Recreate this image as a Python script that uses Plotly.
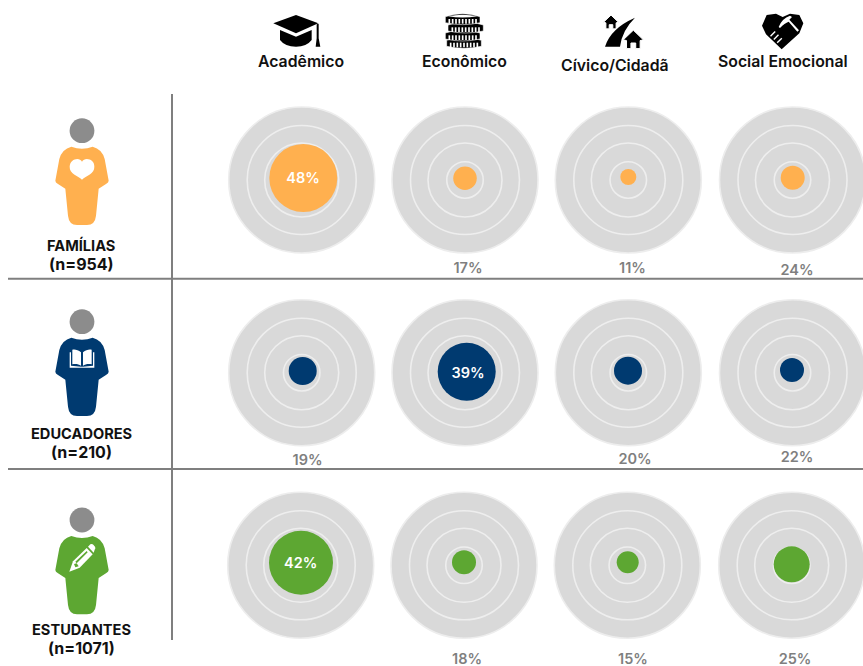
import math
import plotly.graph_objects as go

# ---------- data ----------
areas = ["Acadêmico", "Econômico", "Cívico/Cidadã", "Social Emocional"]
groups = ["FAMÍLIAS", "EDUCADORES", "ESTUDANTES"]
group_n = [954, 210, 1071]
familias = [48, 17, 11, 24]
educadores = [19, 39, 20, 22]
estudantes = [42, 18, 15, 25]
# diameters of the coloured dots (px)
familias_dot = [68, 23.5, 16, 24]
educadores_dot = [28, 58, 28, 24]
estudantes_dot = [64, 24, 22, 36]

# ---------- layout ----------
W, H = 863, 666
FONT = "Inter"
series = [familias, educadores, estudantes]
dots = [familias_dot, educadores_dot, estudantes_dot]
colors = ["#FFB04F", "#003A70", "#5DA732"]
target_x = [[301.7, 465, 628.3, 792.5], [301.7, 465, 628.3, 792.5], [300.7, 464, 627.3, 791.7]]
target_y = [180, 372.7, 565.3]
dot_xy = [
    [(303.3, 178), (465, 178.3), (628.3, 177), (792.7, 177.7)],
    [(302.7, 371), (466.7, 371.7), (628, 370.7), (792, 370)],
    [(301, 562.7), (464, 562.3), (627.7, 562.3), (791.7, 564.3)],
]
label_xy = [
    [(303, 179.5), (468, 269.5), (632.5, 269.5), (797, 271)],
    [(307.5, 461), (468, 374.5), (635, 460.5), (797, 458.5)],
    [(300.7, 564.5), (467, 660.5), (633, 660.5), (795, 660.5)],
]
ring_d = [146, 109, 74, 36.5]
head_y = [130.7, 321.7, 520]
head_x = 82
group_label_y = [(245.5, 263.5), (434, 452), (630, 648)]
header_xy = [(300.5, 61.5), (464, 61), (615, 65), (782.5, 61)]

fig = go.Figure()

# target rings
for row in range(3):
    xs = target_x[row]
    ys = [target_y[row]] * 4
    fig.add_trace(go.Scatter(x=xs, y=ys, mode="markers", showlegend=False, hoverinfo="skip",
                             marker=dict(size=ring_d[0], color="#D9D9D9", opacity=1,
                                         line=dict(color="#EDEDED", width=1.6))))
    for d in ring_d[1:]:
        fig.add_trace(go.Scatter(x=xs, y=ys, mode="markers", showlegend=False, hoverinfo="skip",
                                 marker=dict(size=d, color="rgba(0,0,0,0)", opacity=1,
                                             line=dict(color="#EEEEEE", width=1.6))))

# coloured dots and value labels
for row, vals in enumerate(series):
    fig.add_trace(go.Scatter(x=[p[0] for p in dot_xy[row]], y=[p[1] for p in dot_xy[row]],
                             mode="markers", name=groups[row], showlegend=False, hoverinfo="skip",
                             marker=dict(size=dots[row], color=colors[row], opacity=1, line=dict(width=0))))
    big = [v == max(vals) for v in vals]
    fig.add_trace(go.Scatter(x=[p[0] for p in label_xy[row]], y=[p[1] for p in label_xy[row]],
                             mode="text", showlegend=False, hoverinfo="skip",
                             text=[f"{v}%" for v in vals], textposition="middle center",
                             textfont=dict(family=FONT, size=14.5, weight=600,
                                           color=["#FFFFFF" if b else "#7F7F7F" for b in big])))

# person figures
shapes = []
def path(d, fill, line=None, lw=0):
    shapes.append(dict(type="path", path=d, xref="x", yref="y", fillcolor=fill,
                       line=dict(color=line or "rgba(0,0,0,0)", width=lw)))

def circle(cx, cy, r, fill):
    shapes.append(dict(type="circle", x0=cx - r, x1=cx + r, y0=cy - r, y1=cy + r, xref="x", yref="y",
                       fillcolor=fill, line=dict(width=0)))

def tr(ox, oy, s=1 / 3):
    return lambda x, y: f"{ox + x * s:.2f},{oy + y * s:.2f}"

for row, hy in enumerate(head_y):
    circle(head_x, hy, 12.4, "#8C8C8C")
    p = tr(head_x, hy)
    d = ("M" + p(-32, 48) + " Q" + p(0, 60) + " " + p(32, 48) + " Q" + p(60, 55) + " " + p(68, 85)
         + " L" + p(80, 150) + " Q" + p(80, 156) + " " + p(72, 160) + " L" + p(50, 174)
         + " L" + p(42, 255) + " Q" + p(39, 283) + " " + p(15, 283) + " L" + p(-15, 283)
         + " Q" + p(-39, 283) + " " + p(-42, 255) + " L" + p(-50, 174) + " L" + p(-72, 160)
         + " Q" + p(-80, 156) + " " + p(-80, 150) + " L" + p(-68, 85) + " Q" + p(-60, 55) + " " + p(-32, 48) + " Z")
    path(d, colors[row])

# heart on FAMÍLIAS
p = tr(head_x, head_y[0])
path("M" + p(0, 147) + " C" + p(-12, 135) + " " + p(-38, 130) + " " + p(-37, 108) + " C" + p(-36, 85) + " " + p(-8, 78) + " " + p(0, 93)
     + " C" + p(8, 78) + " " + p(38, 85) + " " + p(37, 108) + " C" + p(38, 130) + " " + p(12, 135) + " " + p(0, 147) + " Z", "#FFFFFF")

# open book on EDUCADORES
p = tr(head_x, head_y[1])
path("M" + p(-3, 92) + " C" + p(-12, 84) + " " + p(-22, 82) + " " + p(-29, 84) + " L" + p(-29, 128) + " C" + p(-20, 126) + " " + p(-10, 127) + " " + p(-3, 132) + " Z", "#FFFFFF")
path("M" + p(3, 92) + " C" + p(12, 84) + " " + p(22, 82) + " " + p(29, 84) + " L" + p(29, 128) + " C" + p(20, 126) + " " + p(10, 127) + " " + p(3, 132) + " Z", "#FFFFFF")
path("M" + p(-37, 92) + " L" + p(-33, 92) + " L" + p(-33, 132) + " L" + p(-3, 135) + " L" + p(3, 135) + " L" + p(33, 132) + " L" + p(33, 92) + " L" + p(37, 92)
     + " L" + p(37, 138) + " L" + p(-37, 138) + " Z", "#FFFFFF")

# pencil on ESTUDANTES
p = tr(head_x, head_y[2])
path("M" + p(-38, 155) + " L" + p(-27, 124) + " L" + p(14, 84) + " L" + p(32, 103) + " L" + p(-7, 143) + " Z", "#FFFFFF")
path("M" + p(18, 80) + " L" + p(25, 73) + " Q" + p(30, 70) + " " + p(34, 74) + " L" + p(39, 80) + " Q" + p(42, 85) + " " + p(38, 89) + " L" + p(35, 98) + " Z", "#FFFFFF")
path("M" + p(-20, 125) + " L" + p(14, 93) + " L" + p(17, 97) + " L" + p(-16, 130) + " Z", colors[2])
path("M" + p(-24, 132) + " L" + p(-16, 130) + " L" + p(-10, 139) + " L" + p(-20, 142) + " Z", colors[2])

# graduation cap
p = tr(260, 5)
path("M" + p(60, 75) + " L" + p(108, 95) + " L" + p(155, 75) + " L" + p(155, 105) + " Q" + p(140, 125) + " " + p(108, 125) + " Q" + p(75, 125) + " " + p(60, 105) + " Z", "#000000")
path("M" + p(40, 55) + " L" + p(108, 30) + " L" + p(175, 55) + " L" + p(108, 85) + " Z", "#000000")
path("M" + p(170, 58) + " L" + p(176, 56) + " L" + p(176, 100) + " L" + p(181, 125) + " L" + p(167, 125) + " L" + p(170, 100) + " Z", "#000000")

# coins
for cx, top, hw in [(612, 98, 52), (608, 76, 52), (617, 52, 53), (608, 27, 52)]:
    h = 32
    path("M" + p(cx - hw, top + 8) + " Q" + p(cx, top - 10) + " " + p(cx + hw, top + 8) + " L" + p(cx + hw, top + h - 6)
         + " Q" + p(cx, top + h + 6) + " " + p(cx - hw, top + h - 6) + " Z", "#000000", "#FFFFFF", 0.6)
    for i in range(-4, 5):
        bx = cx + i * 10
        path("M" + p(bx - 2.5, top + 15) + " L" + p(bx + 2.5, top + 15) + " L" + p(bx + 2.5, top + h - 3) + " L" + p(bx - 2.5, top + h - 3) + " Z", "#FFFFFF")
    if top == 27:
        path("M" + p(cx - hw + 8, top + 7) + " Q" + p(cx, top - 3) + " " + p(cx + hw - 8, top + 7) + " Q" + p(cx, top + 14) + " " + p(cx - hw + 8, top + 7) + " Z", "#FFFFFF")

# houses and road
p = tr(590, 5)
path("M" + p(135, 38) + " Q" + p(62, 70) + " " + p(45, 125) + " L" + p(90, 125) + " Q" + p(96, 76) + " " + p(135, 38) + " Z", "#000000")
def house(cx, cy, s):
    path("M" + p(cx - 25 * s, cy + 2 * s) + " L" + p(cx, cy - 22 * s) + " L" + p(cx + 25 * s, cy + 2 * s) + " L" + p(cx + 17 * s, cy + 4 * s)
         + " L" + p(cx + 17 * s, cy + 24 * s) + " L" + p(cx + 6 * s, cy + 24 * s) + " L" + p(cx + 6 * s, cy + 10 * s)
         + " L" + p(cx - 6 * s, cy + 10 * s) + " L" + p(cx - 6 * s, cy + 24 * s) + " L" + p(cx - 17 * s, cy + 24 * s) + " L" + p(cx - 17 * s, cy + 4 * s) + " Z",
         "#000000", "#FFFFFF", 1)
house(63, 50, 0.9)
house(130, 102, 1.2)

# handshake heart
path("M" + p(575, 133) + " L" + p(528, 88) + " L" + p(516, 62) + " L" + p(530, 30) + " L" + p(558, 26)
     + " L" + p(578, 36) + " L" + p(600, 26) + " L" + p(628, 30) + " L" + p(640, 55) + " L" + p(628, 85) + " Z", "#000000")
path("M" + p(600, 32) + " Q" + p(576, 40) + " " + p(566, 66) + " L" + p(570, 69) + " Q" + p(584, 54) + " " + p(596, 50)
     + " L" + p(622, 80) + " L" + p(627, 76) + " L" + p(598, 44) + " L" + p(606, 36) + " Z", "#FFFFFF")
for x0, y0 in [(540, 92), (550, 102), (560, 112)]:
    path("M" + p(x0, y0) + " L" + p(x0 + 14, y0 - 14) + " L" + p(x0 + 17, y0 - 11) + " L" + p(x0 + 3, y0 + 3) + " Z", "#FFFFFF")

# rule lines
LINE = "#7F7F7F"
for y in [278.7, 469]:
    shapes.append(dict(type="line", x0=8, x1=863, y0=y, y1=y, xref="x", yref="y", line=dict(color=LINE, width=2)))
shapes.append(dict(type="line", x0=172, x1=172, y0=94, y1=640, xref="x", yref="y", line=dict(color=LINE, width=2)))

# headers and group labels
ann = []
for name, (x, y) in zip(areas, header_xy):
    ann.append(dict(x=x, y=y, text=name, xref="x", yref="y", showarrow=False, xanchor="center", yanchor="middle",
                    font=dict(family=FONT, size=15.8, weight=600, color="#111111")))
for name, n, (y1, y2) in zip(groups, group_n, group_label_y):
    ann.append(dict(x=81, y=y1, text=name, xref="x", yref="y", showarrow=False, xanchor="center", yanchor="middle",
                    font=dict(family=FONT, size=14.6, weight=700, color="#111111")))
    ann.append(dict(x=81, y=y2, text=f"(n={n})", xref="x", yref="y", showarrow=False, xanchor="center", yanchor="middle",
                    font=dict(family=FONT, size=16, weight=700, color="#111111")))

fig.update_layout(width=W, height=H, margin=dict(l=0, r=0, t=0, b=0), autosize=False,
                  paper_bgcolor="#FFFFFF", plot_bgcolor="#FFFFFF", hovermode=False,
                  shapes=shapes, annotations=ann, showlegend=False,
                  xaxis=dict(range=[0, W], visible=False, fixedrange=True),
                  yaxis=dict(range=[H, 0], visible=False, fixedrange=True))

fig.write_html("out.html", config={"displayModeBar": False},
               post_script="document.body.style.margin='0';document.documentElement.style.overflow='hidden';")
